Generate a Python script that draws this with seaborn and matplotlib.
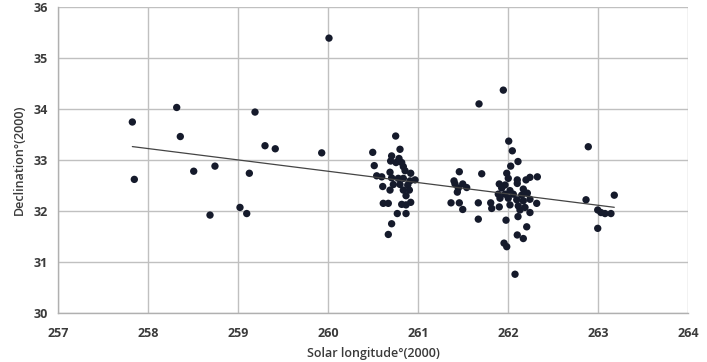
import numpy as np
import pandas as pd
import matplotlib
matplotlib.use("Agg")
import matplotlib.pyplot as plt
import seaborn as sns

# Solar longitude (deg, J2000) and declination (deg, J2000) of each meteor
solar_longitude = [
    257.826, 257.848, 258.319, 258.359, 258.508, 258.744, 258.689, 259.022,
    259.097, 259.126, 259.189, 259.300, 259.414, 259.930, 260.011,
    # cluster near 260.7
    260.752, 260.497, 260.800, 260.707, 260.789, 260.696, 260.756, 260.819,
    260.514, 260.837, 260.856, 260.919, 260.541, 260.597, 260.689, 260.707,
    260.781, 260.837, 260.911, 260.967, 260.608, 260.726, 260.800, 260.886,
    260.689, 260.837, 260.904, 260.867, 260.614, 260.670, 260.819, 260.867,
    260.919, 260.770, 260.867, 260.707, 260.670,
    # cluster near 261.45
    261.459, 261.708, 261.400, 261.411, 261.497, 261.448, 261.541, 261.437,
    261.367, 261.459, 261.497, 261.670, 261.670,
    # cluster near 262.05
    261.948, 261.678, 262.008, 262.048, 262.111, 262.030, 261.986, 262.003,
    262.103, 262.200, 262.244, 262.326, 261.903, 261.967, 262.103, 261.930,
    262.022, 262.170, 261.892, 261.967, 262.059, 262.152, 262.215, 261.911,
    262.003, 262.097, 262.170, 262.244, 262.319, 261.808, 261.819, 261.903,
    262.022, 262.114, 262.189, 262.133, 262.244, 262.111, 261.978, 262.208,
    262.103, 262.170, 261.956, 261.986, 262.078,
    # right group
    262.892, 262.867, 263.181, 262.997, 263.033, 263.078, 263.144, 262.997,
]
declination = [
    33.745, 32.62, 34.03, 33.46, 32.78, 32.88, 31.92, 32.07,
    31.95, 32.74, 33.94, 33.28, 33.22, 33.14, 35.39,
    33.47, 33.15, 33.21, 33.08, 33.03, 32.98, 32.95, 32.95,
    32.89, 32.87, 32.79, 32.74, 32.69, 32.67, 32.76, 32.65,
    32.64, 32.64, 32.59, 32.61, 32.48, 32.52, 32.52, 32.51,
    32.41, 32.41, 32.41, 32.30, 32.15, 32.15, 32.13, 32.12,
    32.17, 31.95, 31.95, 31.75, 31.54,
    32.77, 32.73, 32.59, 32.53, 32.53, 32.45, 32.46, 32.37,
    32.16, 32.16, 32.03, 32.16, 31.84,
    34.37, 34.10, 33.37, 33.18, 32.97, 32.88, 32.74, 32.64,
    32.61, 32.61, 32.66, 32.67, 32.53, 32.51, 32.54, 32.45,
    32.40, 32.43, 32.33, 32.33, 32.33, 32.31, 32.35, 32.25,
    32.25, 32.22, 32.20, 32.23, 32.15, 32.16, 32.05, 32.08,
    32.12, 32.10, 32.07, 32.02, 31.97, 31.89, 31.82, 31.69,
    31.53, 31.46, 31.37, 31.30, 30.76,
    33.26, 32.22, 32.31, 32.02, 31.97, 31.95, 31.95, 31.66,
]

x_ticks = [257, 258, 259, 260, 261, 262, 263, 264]
y_ticks = [30, 31, 32, 33, 34, 35, 36]
x_label = "Solar longitude°(2000)"
y_label = "Declination°(2000)"

df = pd.DataFrame({"lon": solar_longitude, "dec": declination})

sns.set_style("white")
plt.rcParams["font.family"] = ["Open Sans", "DejaVu Sans"]

fig = plt.figure(figsize=(7.07, 3.62), dpi=100)
ax = fig.add_axes([58 / 707, 1 - 313 / 362, (688 - 58) / 707, (313 - 7) / 362])

sns.regplot(data=df, x="lon", y="dec", ax=ax, ci=None, truncate=True,
            scatter_kws=dict(s=28, color="#151a2b", edgecolor="none", alpha=1, zorder=3),
            line_kws=dict(color="#444444", lw=0.9, zorder=4))

ax.set_xlim(257, 264)
ax.set_ylim(30, 36)
ax.set_xticks(x_ticks)
ax.set_yticks(y_ticks)
ax.grid(True, color="#c0c0c0", lw=1.0)
ax.set_axisbelow(True)
for s in ["top", "right"]:
    ax.spines[s].set_visible(False)
for s in ["left", "bottom"]:
    ax.spines[s].set_color("#b0b0b0")
    ax.spines[s].set_linewidth(1.0)
ax.tick_params(axis="both", length=4, width=1, color="#b0b0b0",
               labelsize=9, labelcolor="#3a3a3a", pad=3, direction="out")
ax.tick_params(axis="x", pad=6)
for lbl in ax.get_xticklabels() + ax.get_yticklabels():
    lbl.set_fontweight("bold")
ax.set_xlabel(x_label, fontsize=9, color="#3a3a3a", labelpad=5, fontweight="semibold")
ax.set_ylabel(y_label, fontsize=9, color="#3a3a3a", labelpad=6, fontweight="semibold")

fig.savefig("out.png", dpi=100, facecolor="white")
